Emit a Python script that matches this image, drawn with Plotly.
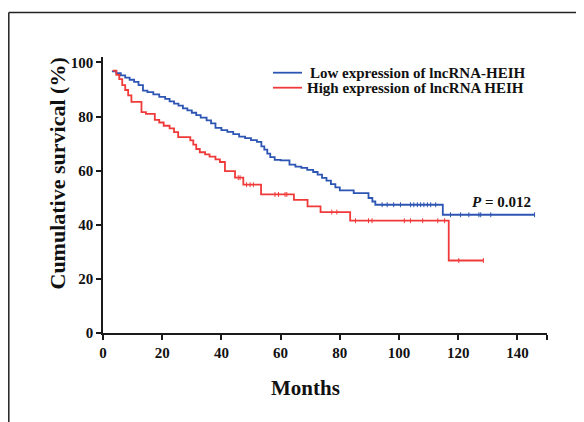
import plotly.graph_objects as go

# ---------------- data ----------------
low_months = [3, 4.5, 6, 7.5, 9, 10.5, 12, 13.5, 15, 17, 19, 21, 22.5, 24, 25.5, 27, 28.5, 30,
              31.5, 33, 35, 36.5, 38, 40, 42, 44, 46, 48, 50, 52, 53.5, 54.5, 55.5, 56.5, 58,
              60, 63, 65, 67, 69, 71, 72.5, 74, 75.5, 77, 78.5, 80, 84.7, 89.7, 91, 92, 114.8, 145.8]
low_surv = [96.7, 96, 95.2, 94.4, 93.6, 92.8, 91.6, 89.6, 89, 88.2, 87.3, 86.5, 85.6, 84.8, 84,
            83, 82.3, 81.4, 80.5, 79.6, 78.6, 77.5, 75.8, 75, 74.3, 73.5, 72.6, 72, 71.3, 70.6,
            69, 67.8, 66.3, 65, 64, 63.8, 62.2, 61.5, 61, 60.3, 59.5, 58.5, 57.3, 56.3, 55, 53.8,
            52.7, 51.7, 49.9, 48.6, 47.4, 43.7, 43.7]
low_censored = [94.3, 96, 98.2, 100.5, 103.9, 105, 106.2, 107.3, 108.4, 109.6, 110.7, 112.4,
                117.4, 120.8, 123.6, 127, 127.6, 131, 145.8]

high_months = [3.3, 4.5, 5.5, 6.5, 7.5, 8.5, 9.6, 13, 14.5, 17.5, 19, 20.5, 22.5, 24, 25.4, 29.5,
               30.5, 31.5, 32.7, 34.5, 36, 38, 39.5, 41.2, 44.6, 47.4, 53.4, 64.5, 69.1, 73.5,
               83.5, 116.8, 128.5]
high_surv = [97, 95.4, 93.8, 91.6, 89.8, 87.8, 85.4, 81.6, 81.0, 78.8, 77.8, 76.6, 75.6, 74.2,
             72.4, 71.2, 69.6, 68, 66.8, 66, 65.2, 64.2, 63.2, 59.8, 57.4, 54.8, 51.2, 49.2,
             46.8, 44.7, 41.5, 26.8, 26.8]
high_censored = [45.7, 46.3, 48.5, 49.7, 50.8, 58.1, 59.3, 61.5, 62.1, 77.3, 79, 85.3, 89.7,
                 90.9, 101.8, 103.9, 108, 113.1, 115.4, 120.2, 128.5]

x_ticks = [0, 20, 40, 60, 80, 100, 120, 140]
y_ticks = [0, 20, 40, 60, 80, 100]
legend_labels = ["Low expression of lncRNA-HEIH", "High expression of lncRNA HEIH"]
p_text = "<i>P</i> = 0.012"

BLUE = "#2d55b3"
RED = "#f03a3a"
FONT = "Liberation Serif"


def surv_at(times, surv, t):
    s = surv[0]
    for ti, si in zip(times, surv):
        if ti <= t:
            s = si
    return s


# ---------------- figure ----------------
# the page places the figure 8px in from the top-left corner (body margin)
OFF = 8
W, H = 584 - OFF, 422 - OFF
L, T = 103 - OFF, 57 - OFF
R = W - (547 - OFF)
B = H - (333 - OFF)
pw, ph = W - L - R, H - T - B


def px(xp):
    return (xp - OFF - L) / pw


def py(yp):
    return (H - B - (yp - OFF)) / ph


fig = go.Figure()
for times, surv, cens, col in [(low_months, low_surv, low_censored, BLUE),
                               (high_months, high_surv, high_censored, RED)]:
    fig.add_trace(go.Scatter(x=times, y=surv, mode="lines", line=dict(color=col, width=1.8, shape="hv"),
                             showlegend=False, hoverinfo="skip"))
    fig.add_trace(go.Scatter(x=cens, y=[surv_at(times, surv, c) for c in cens], mode="markers",
                             marker=dict(symbol="line-ns", size=3.5, line=dict(color=col, width=1)),
                             showlegend=False, hoverinfo="skip"))

axis_common = dict(showline=True, linecolor="#1a1a1a", linewidth=1.5, ticks="outside", ticklen=5,
                   tickwidth=1.5, tickcolor="#1a1a1a", showgrid=False, zeroline=False,
                   tickfont=dict(family=FONT, size=15, color="#111", weight="bold"))
fig.update_xaxes(range=[0, 150], tickvals=x_ticks + [150], ticktext=[str(v) for v in x_ticks] + [""],
                 **axis_common)
fig.update_yaxes(range=[0, 102], tickvals=y_ticks, ticktext=[str(v) for v in y_ticks], **axis_common)

shapes = []
# outer frame (top and left edges)
shapes.append(dict(type="line", xref="paper", yref="paper", x0=px(8.8), y0=py(12.5), x1=px(600), y1=py(12.5),
                   line=dict(color="#222", width=1.5)))
shapes.append(dict(type="line", xref="paper", yref="paper", x0=px(8.8), y0=py(12.5), x1=px(8.8), y1=py(440),
                   line=dict(color="#222", width=1.5)))
# legend samples
shapes.append(dict(type="line", xref="paper", yref="paper", x0=px(273), y0=py(72.7), x1=px(302), y1=py(72.7),
                   line=dict(color=BLUE, width=1.8)))
shapes.append(dict(type="line", xref="paper", yref="paper", x0=px(273), y0=py(87.7), x1=px(302), y1=py(87.7),
                   line=dict(color=RED, width=1.8)))

annotations = [
    dict(xref="paper", yref="paper", x=px(308), y=py(72.7), text=legend_labels[0], showarrow=False,
         xanchor="left", yanchor="middle", font=dict(family=FONT, size=15, color="#111", weight="bold")),
    dict(xref="paper", yref="paper", x=px(305), y=py(87.7), text=legend_labels[1], showarrow=False,
         xanchor="left", yanchor="middle", font=dict(family=FONT, size=15, color="#111", weight="bold")),
    dict(xref="paper", yref="paper", x=px(501), y=py(201.5), text=p_text, showarrow=False,
         xanchor="center", yanchor="middle", font=dict(family=FONT, size=15, color="#111", weight="bold")),
    dict(xref="paper", yref="paper", x=px(305), y=py(388), text="Months", showarrow=False,
         xanchor="center", yanchor="middle", font=dict(family=FONT, size=21, color="#111", weight="bold")),
    dict(xref="paper", yref="paper", x=px(57), y=py(173.5), text="Cumulative survical (%)", showarrow=False,
         textangle=-90, xanchor="center", yanchor="middle",
         font=dict(family=FONT, size=22, color="#111", weight="bold")),
]

fig.update_layout(width=W, height=H, margin=dict(l=L, r=R, t=T, b=B), plot_bgcolor="white",
                  paper_bgcolor="white", shapes=shapes, annotations=annotations)

fig.write_html("out.html")
